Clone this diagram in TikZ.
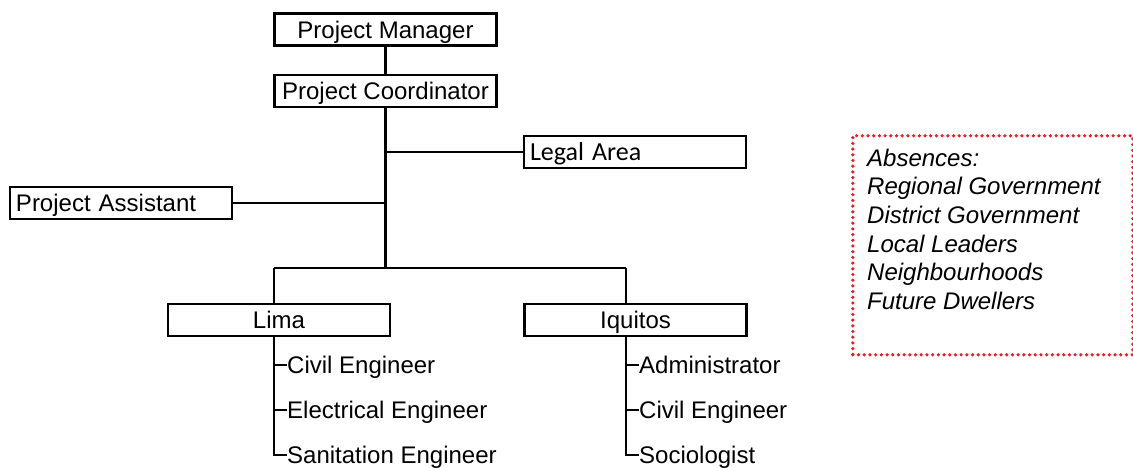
\documentclass[tikz,border=0pt]{standalone}
\usepackage{fontspec}
\setmainfont{Liberation Sans}
\newfontfamily\legalfont{Carlito}
\usepackage{tikz}
\usetikzlibrary{positioning}
\definecolor{dotred}{RGB}{237,28,36}
\tikzstyle{unit}=[rectangle,draw=black,line width=2.6pt,minimum width=222pt,
minimum height=32pt,inner sep=0pt,text height=17.2pt,text depth=0pt,text centered]
\tikzstyle{unitleft}=[unit,inner xsep=6pt,text width=210pt,align=left]
\tikzstyle{member}=[anchor=west,inner sep=0pt,text height=17.2pt,text depth=0pt]
\tikzstyle{link}=[line width=2.6pt]
\tikzstyle{absent}=[rectangle,draw=dotred,line width=3.6pt,line cap=round,
dash pattern=on 0pt off 5.7pt]

\begin{document}
\begin{tikzpicture}[x=1pt,y=-1pt,font=\fontsize{24}{28}\selectfont]
    \useasboundingbox (0,0) rectangle (1133,468);

        % head of the project
        \node (manager) [unit] at (385.5,29.5) {Project Manager};
        \node (coordinator) [unit] at (385.5,91) {Project Coordinator};
        \node (legal) [unitleft] at (635,152) {\legalfont\fontsize{26}{30}\selectfont Legal Area};
        \node (assistant) [unitleft] at (121,203) {Project Assistant};

        % the two offices
        \node (lima) [unit] at (279,320) {Lima};
        \node (iquitos) [unit] at (635.5,320) {Iquitos};

        \coordinate (split) at (385.5,268);
        \coordinate (limadrop) at (274,268);
        \coordinate (iquitosdrop) at (626,268);

        \draw [link] (manager) -- (coordinator);
        \draw [link] (coordinator.south) -- (split);
        \draw [link] (coordinator.south |- legal.west) -- (legal.west);
        \draw [link] (assistant.east) -- (assistant.east -| coordinator.south);
        \draw [link] (limadrop) -- (iquitosdrop);
        \draw [link] (limadrop) -- (limadrop |- lima.north);
        \draw [link] (iquitosdrop) -- (iquitosdrop |- iquitos.north);

        % staff of each office
        \foreach \y/\name [count=\i] in {365/Civil Engineer,410/Electrical Engineer,455/Sanitation Engineer}
            \node (lima\i) [member] at (287,\y) {\name};
        \foreach \y/\name [count=\i] in {365/Administrator,410/Civil Engineer,455/Sociologist}
            \node (iquitos\i) [member] at (639,\y) {\name};

        \draw [link] (limadrop |- lima.south) |- (lima3.west);
        \draw [link] (limadrop |- lima1.west) -- (lima1.west);
        \draw [link] (limadrop |- lima2.west) -- (lima2.west);
        \draw [link] (iquitosdrop |- iquitos.south) |- (iquitos3.west);
        \draw [link] (iquitosdrop |- iquitos1.west) -- (iquitos1.west);
        \draw [link] (iquitosdrop |- iquitos2.west) -- (iquitos2.west);

        % who is missing
        \node (absences) [absent,minimum width=280pt,minimum height=219pt,anchor=north west] at (851,134) {};
        \node (absentlist) [anchor=north west,inner sep=0pt,align=left,
            font=\fontsize{24}{28.7}\selectfont\itshape] at (867,148.5)
            {Absences:\\Regional Government\\District Government\\Local Leaders\\Neighbourhoods\\Future Dwellers};

\end{tikzpicture}
\end{document}
